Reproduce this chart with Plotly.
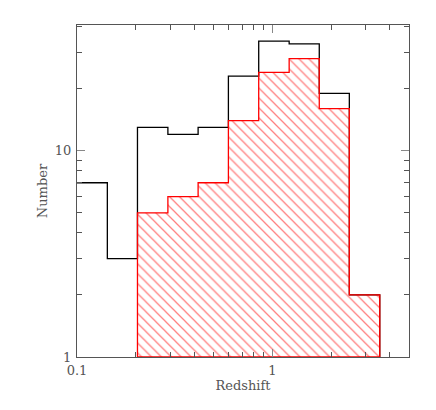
import plotly.graph_objects as go

# bin edges in redshift (log-spaced), and counts per bin
bin_edges = [0.1, 0.143, 0.204, 0.292, 0.417, 0.596, 0.852, 1.22, 1.74, 2.48, 3.55]
all_counts = [7, 3, 13, 12, 13, 23, 34, 33, 19, 2]
sub_counts = [0, 0, 5, 6, 7, 14, 24, 28, 16, 2]

x_major = [0.1, 1]
x_minor = [0.2, 0.3, 0.4, 0.5, 0.6, 0.7, 0.8, 0.9, 2, 3, 4]
y_major = [1, 10]
y_minor = [2, 3, 4, 5, 6, 7, 8, 9, 20, 30, 40]

FLOOR = 1  # bottom of the log axis


def step_path(edges, counts, closed):
    xs, ys = [], []
    started = False
    for i, c in enumerate(counts):
        if c <= 0:
            continue
        if not started:
            xs.append(edges[i])
            ys.append(FLOOR if closed else c)
            started = True
        xs += [edges[i], edges[i + 1]]
        ys += [c, c]
    xs.append(xs[-1])
    ys.append(FLOOR)
    if closed:
        xs.append(xs[0])
        ys.append(FLOOR)
    return xs, ys


fig = go.Figure()

bx, by = step_path(bin_edges, all_counts, closed=False)
fig.add_trace(go.Scatter(
    x=bx, y=by, mode='lines',
    line=dict(color='black', width=1.3),
    showlegend=False, hoverinfo='skip'
))

rx, ry = step_path(bin_edges, sub_counts, closed=True)
fig.add_trace(go.Scatter(
    x=rx, y=ry, mode='lines', fill='toself',
    fillcolor='rgba(0,0,0,0)',
    fillpattern=dict(shape='\\', fgcolor='red', bgcolor='rgba(0,0,0,0)',
                     size=7, solidity=0.18),
    line=dict(color='red', width=1.3),
    showlegend=False, hoverinfo='skip'
))

font = dict(family='DejaVu Serif, Liberation Serif, serif', size=13, color='#555')
axis_common = dict(
    type='log', showgrid=False, zeroline=False,
    showline=True, linecolor='#555', linewidth=1, mirror='allticks',
    ticks='inside', tickcolor='#888', ticklen=8, tickwidth=1,
    tickfont=font, automargin=False,
)

# page body adds an 8px offset, so the figure is sized 8px smaller
fig.update_layout(
    width=428, height=402,
    margin=dict(l=69, r=27, t=17, b=53),
    plot_bgcolor='white', paper_bgcolor='white',
    xaxis=dict(
        **axis_common,
        range=[-1, 0.7],
        tickmode='array', tickvals=x_major, ticktext=['0.1', '1'],
        ticklabelstandoff=1,
        minor=dict(tickmode='array', tickvals=x_minor, ticks='inside',
                   ticklen=5, tickcolor='#555'),
        title=dict(text='Redshift', font=font, standoff=2),
    ),
    yaxis=dict(
        **axis_common,
        range=[0, 1.61],
        tickmode='array', tickvals=y_major, ticktext=['1', '10'],
        ticklabelstandoff=2,
        minor=dict(tickmode='array', tickvals=y_minor, ticks='inside',
                   ticklen=5, tickcolor='#555'),
        title=dict(text='Number', font=font, standoff=4),
    ),
)

fig.write_html("out.html")
